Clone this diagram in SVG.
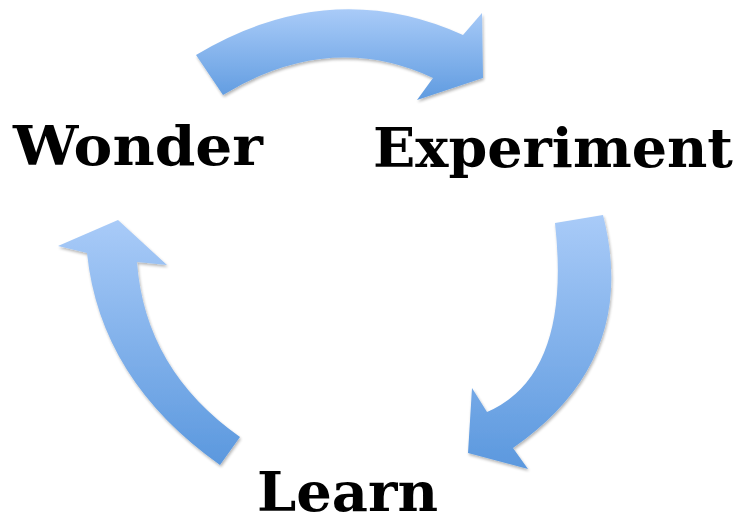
<svg xmlns="http://www.w3.org/2000/svg" width="741" height="517" viewBox="0 0 741 517">
<style>
.lbl{font-family:"DejaVu Serif","Liberation Serif",serif;font-weight:bold;font-size:55px;fill:#000}
.arr{stroke:none}
</style>
<defs>
<linearGradient id="gTop" x1="0" y1="0" x2="0" y2="1">
<stop offset="0" stop-color="#a9cbf8"/><stop offset="1" stop-color="#5f9be0"/>
</linearGradient>
<linearGradient id="gRight" x1="0" y1="0" x2="0" y2="1">
<stop offset="0" stop-color="#a9cbf8"/><stop offset="1" stop-color="#5b98de"/>
</linearGradient>
<linearGradient id="gLeft" x1="0" y1="0" x2="0" y2="1">
<stop offset="0" stop-color="#a9cbf8"/><stop offset="1" stop-color="#5b98de"/>
</linearGradient>
<filter id="sh" x="-10%" y="-10%" width="130%" height="130%">
<feGaussianBlur in="SourceAlpha" stdDeviation="1.5"/>
<feOffset dx="1" dy="2" result="b"/>
<feComponentTransfer><feFuncA type="linear" slope="0.3"/></feComponentTransfer>
<feMerge><feMergeNode/><feMergeNode in="SourceGraphic"/></feMerge>
</filter>
</defs>
<rect width="741" height="517" fill="#fff"/>
<g id="connectors">
<path id="arrow-wonder-experiment" class="arr" fill="url(#gTop)" filter="url(#sh)" d="M196,55 Q330,-25 463,35 L482,13 L483,78 L417,100 L433,78 Q330,30 223,95 Z"/>
<path id="arrow-experiment-learn" class="arr" fill="url(#gRight)" filter="url(#sh)" d="M603,215 Q640,360 513,448 L528,469 L468,453 L472,388 L487,412 Q572,375 555,223 Z"/>
<path id="arrow-learn-wonder" class="arr" fill="url(#gLeft)" filter="url(#sh)" d="M220,465 Q100,380 87,253 L58,246 L118,220 L167,265 L137,262 Q145,370 240,437 Z"/>
</g>
<g id="node-wonder"><text class="lbl" x="13" y="165" textLength="250" lengthAdjust="spacingAndGlyphs">Wonder</text></g>
<g id="node-experiment"><text class="lbl" x="373" y="167" textLength="360" lengthAdjust="spacingAndGlyphs">Experiment</text></g>
<g id="node-learn"><text class="lbl" x="257" y="511" textLength="181" lengthAdjust="spacingAndGlyphs">Learn</text></g>
</svg>
